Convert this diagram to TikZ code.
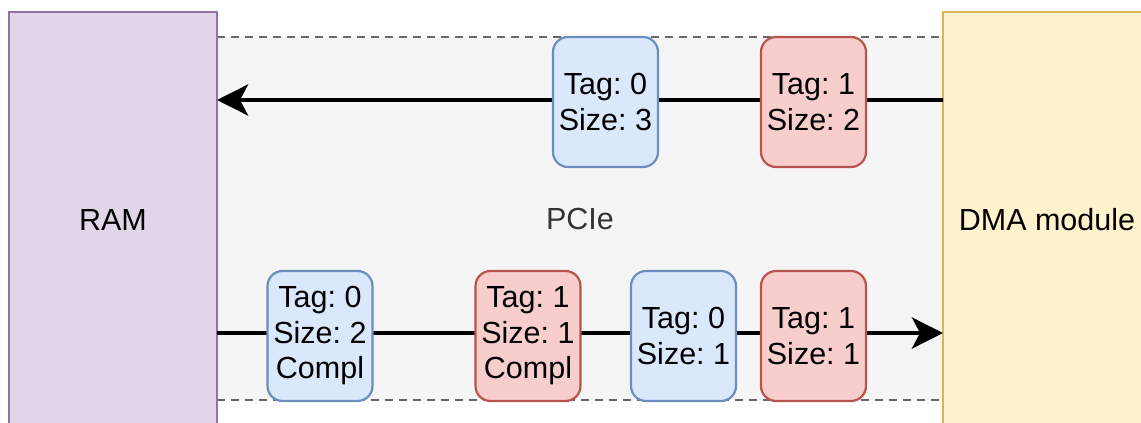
\documentclass[tikz,border=0pt]{standalone}
\usepackage{fontspec}
\setmainfont{Liberation Sans}
\usetikzlibrary{positioning,arrows.meta}

\definecolor{ramfill}{HTML}{E1D5E7}
\definecolor{ramline}{HTML}{9673A6}
\definecolor{dmafill}{HTML}{FFF2CC}
\definecolor{dmaline}{HTML}{D6B656}
\definecolor{busfill}{HTML}{F5F5F5}
\definecolor{busline}{HTML}{666666}
\definecolor{zerofill}{HTML}{DAE8FC}
\definecolor{zeroline}{HTML}{6C8EBF}
\definecolor{onefill}{HTML}{F8CECC}
\definecolor{oneline}{HTML}{B85450}

\begin{document}
\begin{tikzpicture}[x=1pt, y=-1pt,
                      every node/.style = {align=center, inner sep=0pt,
                        font=\fontsize{30.5}{35.5}\selectfont\frenchspacing},
                      unit/.style = {draw, line width=2.2pt,
                        minimum width=208, minimum height=416},
                      packet/.style = {draw, line width=2.2pt, rounded corners=15,
                        minimum width=105, minimum height=130},
                      tagzero/.style = {packet, fill=zerofill, draw=zeroline},
                      tagone/.style = {packet, fill=onefill, draw=oneline},
                      wire/.style = {line width=4.5pt,
                        -{Stealth[length=31, width=31, inset=8]}}]
  \useasboundingbox (0,0) rectangle (1141,423);
  \clip (0,0) rectangle (1141,423);

  % the link between the two ends
  \node[fill=busfill, text=black!80, minimum width=726, minimum height=363]
    (pcie) at (580,218.5) {PCIe};
  \draw[busline, line width=2.2pt, dash pattern=on 8pt off 6pt]
    (pcie.north west) -- (pcie.north east)
    (pcie.south west) -- (pcie.south east);

  \node[unit, fill=ramfill, draw=ramline] (ram) at (113,220) {RAM};
  \node[unit, fill=dmafill, draw=dmaline] (dma) at (1047,220) {DMA module};

  % lanes
  \coordinate (dmaout) at (943,100);
  \coordinate (ramin)  at (217,100);
  \coordinate (ramout) at (217,333);
  \coordinate (dmain)  at (943,333);
  \draw[wire] (dmaout) -- (ramin);
  \draw[wire] (ramout) -- (dmain);

  % requests
  \node[tagzero] (req0) at (605.5,102) {Tag: 0\\Size: 3};
  \node[tagone]  (req1) at (813.5,102) {Tag: 1\\Size: 2};

  % completions
  \node[tagzero] (cpl0) at (320,336)   {Tag: 0\\Size: 2\\Compl};
  \node[tagone]  (cpl1) at (528,336)   {Tag: 1\\Size: 1\\Compl};
  \node[tagzero] (dat0) at (683.5,336) {Tag: 0\\Size: 1};
  \node[tagone]  (dat1) at (813.5,336) {Tag: 1\\Size: 1};
\end{tikzpicture}
\end{document}
